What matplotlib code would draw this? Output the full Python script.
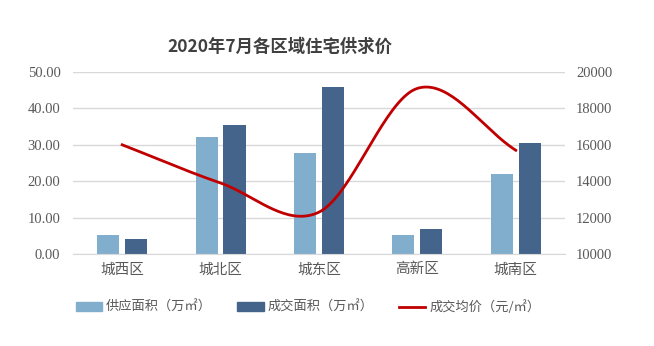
import numpy as np
import matplotlib.pyplot as plt
from matplotlib.patches import Patch
from matplotlib.lines import Line2D

plt.rcParams['font.family'] = ['Noto Sans CJK SC', 'DejaVu Sans']

# 数据
districts = ['城西区', '城北区', '城东区', '高新区', '城南区']
supply_area = [5.3, 32.1, 27.7, 5.3, 21.9]
deal_area = [4.1, 35.5, 45.9, 7.0, 30.6]
avg_price = [16000, 13900, 12300, 19100, 15700]

c_light = '#82AECE'
c_dark = '#44648C'
c_line = '#C00000'
c_text = '#595959'
c_grid = '#D9D9D9'


def smooth(xs, ys, n=40):
    # 类似Excel平滑线 (Catmull-Rom)
    xs = np.asarray(xs, float)
    ys = np.asarray(ys, float)
    px = np.concatenate([[2 * xs[0] - xs[1]], xs, [2 * xs[-1] - xs[-2]]])
    py = np.concatenate([[2 * ys[0] - ys[1]], ys, [2 * ys[-1] - ys[-2]]])
    ox, oy = [], []
    t = np.linspace(0, 1, n)
    for i in range(1, len(px) - 2):
        for p, o in ((px, ox), (py, oy)):
            p0, p1, p2, p3 = p[i - 1], p[i], p[i + 1], p[i + 2]
            o.extend(0.5 * (2 * p1 + (-p0 + p2) * t + (2 * p0 - 5 * p1 + 4 * p2 - p3) * t ** 2
                            + (-p0 + 3 * p1 - 3 * p2 + p3) * t ** 3))
    return ox, oy


fig = plt.figure(figsize=(6.54, 3.46), dpi=100)
ax = fig.add_axes([0.1116, 0.2659, 0.7523, 0.526])
ax2 = ax.twinx()

x = np.arange(len(districts))
w = 0.225
ax.bar(x - 0.142, supply_area, w, color=c_light, zorder=2)
ax.bar(x + 0.142, deal_area, w, color=c_dark, zorder=2)

sx, sy = smooth(x, avg_price)
ax2.plot(sx, sy, color=c_line, lw=2)

ax.set_xlim(-0.5, 4.5)
ax.set_ylim(0, 50)
ax.set_yticks(np.arange(0, 51, 10))
ax.set_yticklabels(['%.2f' % v for v in np.arange(0, 51, 10)])
ax2.set_ylim(10000, 20000)
ax2.set_yticks(np.arange(10000, 20001, 2000))

ax.set_xticks(x)
ax.set_xticklabels(districts)
ax.grid(axis='y', color=c_grid, lw=1, zorder=0)
for a in (ax, ax2):
    for s in a.spines.values():
        s.set_visible(False)
    a.tick_params(length=0, colors=c_text, labelsize=10.5)
ax.spines['bottom'].set_visible(True)
ax.spines['bottom'].set_color(c_grid)
for lbl in ax.get_yticklabels() + ax2.get_yticklabels():
    lbl.set_family('Liberation Serif')
ax.tick_params(axis='y', pad=9)
ax2.tick_params(axis='y', pad=8)
ax.tick_params(axis='x', pad=6)

fig.text(0.428, 0.865, '2020年7月各区域住宅供求价', ha='center', va='center',
         fontsize=12.5, fontweight='bold', color='#404040')

handles = [Patch(color=c_light), Patch(color=c_dark), Line2D([], [], color=c_line, lw=2)]
labels = ['供应面积（万㎡）', '成交面积（万㎡）', '成交均价（元/㎡）']
fig.legend(handles, labels, loc='center', bbox_to_anchor=(0.471, 0.112), ncol=3,
           frameon=False, fontsize=9.5, labelcolor=c_text, handlelength=2.0,
           handleheight=0.6, columnspacing=1.9, handletextpad=0.3)

fig.savefig('out.png', dpi=100)
